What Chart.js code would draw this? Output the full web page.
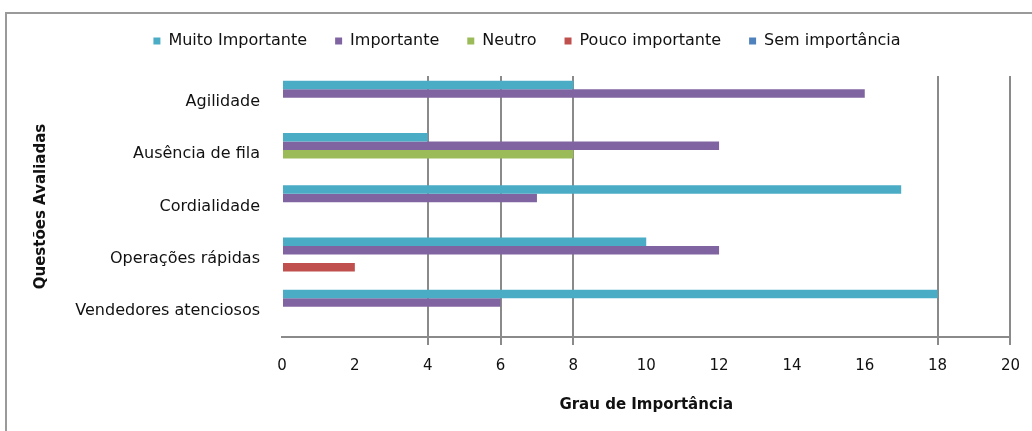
<!DOCTYPE html>
<html>
<head>
<meta charset="utf-8">
<script src="https://cdn.jsdelivr.net/npm/chart.js@4"></script>
<style>
  body { margin: 0; background: #fff; }
  #wrap { position: relative; width: 1032px; height: 431px; overflow: hidden; }
  #frame { position: absolute; left: 5px; top: 12px; width: 1100px; height: 500px;
           border: 2px solid #9a9a9a; box-sizing: border-box; }
  #chartBox { position: absolute; left: 0; top: 0; width: 1032px; height: 431px; }
</style>
</head>
<body>
<div id="wrap">
  <div id="frame"></div>
  <div id="chartBox"><canvas id="importanceChart"></canvas></div>
</div>
<script>
// Questions evaluated (y axis)
const categories = [
  "Agilidade",
  "Ausência de fila",
  "Cordialidade",
  "Operações rápidas",
  "Vendedores atenciosos",
];

// Series, one value per question
const muitoImportante = [8, 4, 17, 10, 18];
const importante = [16, 12, 7, 12, 6];
const neutro = [0, 8, 0, 0, 0];
const poucoImportante = [0, 0, 0, 2, 0];
const semImportancia = [0, 0, 0, 0, 0];

const seriesNames = [
  "Muito Importante",
  "Importante",
  "Neutro",
  "Pouco importante",
  "Sem importância",
];

// x axis tick labels
const xTicks = [0, 2, 4, 6, 8, 10, 12, 14, 16, 18, 20];

// only these gridlines show up in the original picture
const visibleGrid = [4, 6, 8, 18, 20];

const colors = ["#4BACC6", "#8064A2", "#9BBB59", "#C0504D", "#4F81BD"];
const seriesValues = [muitoImportante, importante, neutro, poucoImportante, semImportancia];

Chart.defaults.font.family = "'DejaVu Sans', sans-serif";
Chart.defaults.color = "#111";

function buildChart() {
  const ctx = document.getElementById("importanceChart").getContext("2d");
  new Chart(ctx, {
    type: "bar",
    data: {
      labels: categories,
      datasets: seriesNames.map((name, i) => ({
        label: name,
        data: seriesValues[i],
        backgroundColor: colors[i],
        borderWidth: 0,
        barPercentage: 1,
        categoryPercentage: 0.814,
      })),
    },
    options: {
      indexAxis: "y",
      responsive: true,
      maintainAspectRatio: false,
      animation: false,
      layout: {
        padding: { top: 5, left: 42, right: 20, bottom: 0 },
      },
      plugins: {
        legend: {
          position: "top",
          labels: {
            boxWidth: 7,
            boxHeight: 7,
            padding: 28,
            font: { size: 16 },
            color: "#111",
          },
        },
        tooltip: { enabled: false },
      },
      scales: {
        x: {
          min: 0,
          max: 20,
          afterBuildTicks: (scale) => {
            scale.ticks = xTicks.map((v) => ({ value: v }));
          },
          afterFit: (scale) => {
            scale.height = 94;
          },
          ticks: {
            font: { size: 15 },
            color: "#111",
            padding: 12,
          },
          grid: {
            color: (c) =>
              c.tick && visibleGrid.includes(c.tick.value) ? "#8a8a8a" : "rgba(0,0,0,0)",
            lineWidth: 2,
            tickLength: 8,
          },
          border: { display: true, color: "#8a8a8a", width: 2 },
          title: {
            display: true,
            text: "Grau de Importância",
            font: { size: 15, weight: "bold" },
            color: "#111",
            padding: { top: 0, bottom: 17 },
          },
        },
        // empty spacer axis: leaves the gap between legend and plot
        xTop: {
          axis: "x",
          type: "linear",
          position: "top",
          display: true,
          ticks: { display: false },
          grid: { display: false },
          border: { display: false },
          afterFit: (scale) => {
            scale.height = 17;
          },
        },
        y: {
          grid: { display: false, drawTicks: false },
          border: { display: false },
          ticks: {
            font: { size: 16 },
            color: "#111",
            padding: 22,
          },
          afterFit: (scale) => {
            scale.width = 240;
          },
          title: {
            display: true,
            text: "Questões Avaliadas",
            font: { size: 15, weight: "bold" },
            color: "#111",
            padding: { top: -10, bottom: 0 },
          },
        },
      },
    },
  });
}

window.onload = buildChart;
</script>
</body>
</html>
